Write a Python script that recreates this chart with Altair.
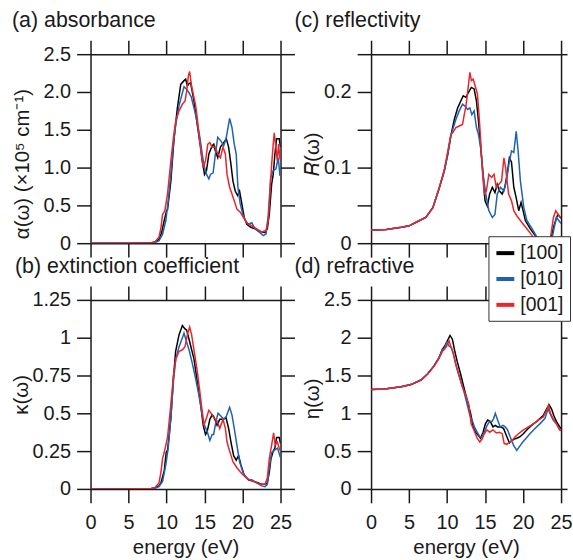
import altair as alt
import pandas as pd

FONT = "Liberation Sans"
INK = "#1a1a1a"

DIRS = ["[100]", "[010]", "[001]"]
COLORS = ["#000000", "#1f62b3", "#e8262c"]
X_TICKS = [0, 5, 10, 15, 20, 25]

# (energy eV, value) pairs for every polarisation direction
ABS_100 = [(0, 0), (5, 0), (8, 0.005), (8.5, 0.015), (9.0, 0.05), (9.35, 0.14), (9.7, 0.30),
           (10.0, 0.43), (10.13, 0.44), (10.57, 0.82), (11.0, 1.40), (11.43, 1.79), (11.87, 2.10),
           (12.3, 2.15), (12.52, 2.17), (12.74, 2.08), (12.96, 2.11), (13.17, 2.12), (13.61, 1.88),
           (14.04, 1.57), (14.48, 1.27), (14.7, 1.09), (15.0, 0.91), (15.26, 0.96), (15.57, 1.18),
           (16.0, 1.29), (16.22, 1.31), (16.43, 1.22), (16.74, 1.13), (17.09, 1.27), (17.52, 1.33),
           (17.87, 1.38), (18.17, 1.27), (18.48, 1.04), (18.74, 0.82), (19.04, 0.69), (19.35, 0.63),
           (19.61, 0.69), (19.91, 0.52), (20.22, 0.34), (20.57, 0.25), (21.09, 0.21), (21.65, 0.19),
           (22.09, 0.16), (22.52, 0.15), (22.96, 0.14), (23.26, 0.19), (23.52, 0.38), (23.83, 0.78),
           (24.04, 0.91), (24.26, 1.18), (24.48, 1.38), (24.83, 1.38), (25.0, 1.27)]
ABS_010 = [(0, 0), (5, 0), (8, 0.003), (8.5, 0.01), (9.0, 0.03), (9.48, 0.12), (9.91, 0.30),
           (10.22, 0.56), (10.57, 0.91), (10.91, 1.31), (11.22, 1.57), (11.65, 1.82), (12.09, 1.99),
           (12.3, 2.07), (12.61, 2.04), (12.96, 1.99), (13.26, 1.93), (13.61, 1.79), (14.04, 1.60),
           (14.39, 1.40), (14.7, 1.18), (14.91, 1.04), (15.26, 0.91), (15.57, 0.85), (15.78, 0.91),
           (16.13, 0.93), (16.43, 1.18), (16.74, 1.40), (17.17, 1.35), (17.52, 1.29), (17.83, 1.38),
           (18.09, 1.53), (18.3, 1.65), (18.61, 1.53), (18.91, 1.31), (19.17, 1.18), (19.39, 0.74),
           (19.7, 0.52), (20.04, 0.38), (20.35, 0.30), (20.78, 0.25), (21.22, 0.27), (21.65, 0.19),
           (22.3, 0.14), (22.74, 0.10), (23.09, 0.12), (23.39, 0.38), (23.7, 0.87), (24.04, 0.96),
           (24.39, 0.98), (24.7, 1.13), (24.91, 0.91), (25.0, 0.92)]
ABS_001 = [(0, 0), (5, 0), (8, 0.005), (8.5, 0.02), (9.0, 0.08), (9.26, 0.20), (9.48, 0.38),
           (9.78, 0.43), (10.13, 0.65), (10.57, 1.09), (10.91, 1.40), (11.22, 1.62), (11.65, 1.75),
           (12.09, 1.84), (12.43, 1.88), (12.65, 2.01), (12.87, 2.21), (13.04, 2.27), (13.26, 2.10),
           (13.52, 1.97), (13.83, 1.82), (14.04, 1.66), (14.26, 1.44), (14.57, 1.18), (14.83, 1.00),
           (15.13, 1.09), (15.43, 1.31), (15.7, 1.33), (16.0, 1.27), (16.43, 1.27), (16.74, 1.18),
           (17.09, 1.13), (17.43, 1.27), (17.74, 1.18), (17.96, 0.91), (18.3, 0.74), (18.61, 0.65),
           (18.91, 0.56), (19.26, 0.45), (19.7, 0.41), (20.13, 0.34), (20.57, 0.27), (21.22, 0.23),
           (21.87, 0.19), (22.52, 0.15), (23.09, 0.17), (23.39, 0.30), (23.61, 0.65), (23.83, 1.04),
           (24.04, 1.31), (24.17, 1.46), (24.39, 1.27), (24.57, 1.09), (24.74, 1.31), (24.91, 1.13),
           (25.0, 1.10)]

EXT_100 = [(0, 0), (5, 0), (8, 0.003), (8.5, 0.008), (9.0, 0.02), (9.26, 0.04), (9.7, 0.12),
           (9.95, 0.24), (10.15, 0.26), (10.57, 0.47), (10.9, 0.73), (11.2, 0.91), (11.65, 1.02),
           (12.09, 1.08), (12.4, 1.06), (12.65, 1.05), (12.96, 0.99), (13.61, 0.86), (14.04, 0.71),
           (14.48, 0.56), (14.83, 0.42), (15.13, 0.36), (15.35, 0.38), (15.7, 0.46), (16.0, 0.49),
           (16.2, 0.48), (16.65, 0.42), (17.0, 0.46), (17.43, 0.46), (17.83, 0.47), (18.17, 0.40),
           (18.48, 0.31), (18.83, 0.22), (19.17, 0.19), (19.48, 0.22), (19.78, 0.16), (20.22, 0.09),
           (20.78, 0.06), (21.43, 0.05), (22.09, 0.04), (22.5, 0.03), (22.96, 0.03), (23.26, 0.04),
           (23.52, 0.11), (23.74, 0.20), (24.04, 0.25), (24.26, 0.27), (24.48, 0.34), (24.83, 0.34),
           (25.0, 0.30)]
EXT_010 = [(0, 0), (5, 0), (8, 0.002), (8.5, 0.005), (9.0, 0.015), (9.48, 0.05), (9.91, 0.16),
           (10.22, 0.27), (10.57, 0.47), (10.91, 0.71), (11.22, 0.86), (11.65, 0.94), (12.09, 1.00),
           (12.3, 1.03), (12.65, 0.97), (12.96, 0.92), (13.39, 0.83), (13.83, 0.73), (14.26, 0.62),
           (14.7, 0.49), (15.0, 0.42), (15.35, 0.38), (15.7, 0.32), (16.0, 0.36), (16.2, 0.36),
           (16.52, 0.45), (16.78, 0.50), (17.17, 0.48), (17.52, 0.46), (17.87, 0.48), (18.3, 0.54),
           (18.61, 0.49), (18.91, 0.40), (19.26, 0.29), (19.61, 0.18), (20.13, 0.10), (20.78, 0.06),
           (21.22, 0.06), (21.87, 0.04), (22.52, 0.02), (22.96, 0.015), (23.26, 0.03), (23.52, 0.14),
           (23.83, 0.24), (24.3, 0.26), (24.61, 0.27), (24.91, 0.22), (25.0, 0.23)]
EXT_001 = [(0, 0), (5, 0), (8, 0.003), (8.5, 0.01), (9.0, 0.04), (9.26, 0.11), (9.48, 0.20),
           (9.78, 0.26), (10.13, 0.34), (10.57, 0.56), (10.91, 0.75), (11.22, 0.86), (11.65, 0.91),
           (12.09, 0.92), (12.43, 0.94), (12.74, 1.02), (13.04, 1.07), (13.3, 1.02), (13.61, 0.92),
           (14.04, 0.78), (14.39, 0.64), (14.7, 0.51), (14.91, 0.42), (15.26, 0.47), (15.57, 0.52),
           (15.87, 0.50), (16.22, 0.47), (16.65, 0.45), (17.0, 0.40), (17.43, 0.46), (17.74, 0.40),
           (17.96, 0.31), (18.3, 0.25), (18.74, 0.18), (19.26, 0.14), (19.91, 0.10), (20.57, 0.07),
           (21.43, 0.05), (22.3, 0.03), (22.96, 0.03), (23.26, 0.07), (23.52, 0.20), (23.83, 0.29),
           (24.09, 0.37), (24.3, 0.29), (24.57, 0.31), (24.83, 0.27), (25.0, 0.25)]

REF_100 = [(0, 0.017), (2, 0.018), (4, 0.021), (5, 0.023), (6, 0.028), (7.2, 0.034), (8.13, 0.047),
           (9.0, 0.074), (9.65, 0.096), (10.1, 0.118), (10.5, 0.142), (10.96, 0.164), (11.4, 0.179),
           (11.8, 0.188), (12.13, 0.195), (12.48, 0.193), (12.91, 0.201), (13.2, 0.206), (13.56, 0.204),
           (13.87, 0.188), (14.13, 0.162), (14.43, 0.126), (14.74, 0.091), (15.0, 0.056), (15.3, 0.049),
           (15.6, 0.065), (15.96, 0.074), (16.3, 0.067), (16.6, 0.078), (16.9, 0.069), (17.26, 0.065),
           (17.6, 0.074), (17.9, 0.091), (18.2, 0.113), (18.48, 0.107), (18.78, 0.074), (19.1, 0.060),
           (19.43, 0.043), (19.74, 0.054), (20.0, 0.043), (20.3, 0.030), (20.96, 0.019), (21.6, 0.010),
           (22.3, 0.002), (22.9, 0.0), (23.6, 0.002), (24.0, 0.021), (24.4, 0.034), (24.6, 0.038),
           (24.9, 0.034), (25.0, 0.033)]
REF_010 = [(0, 0.017), (2, 0.018), (4, 0.021), (5, 0.023), (6, 0.028), (7.2, 0.034), (8.13, 0.047),
           (9.0, 0.074), (9.65, 0.096), (10.1, 0.118), (10.5, 0.142), (10.83, 0.153), (11.17, 0.164),
           (11.6, 0.175), (12.04, 0.184), (12.39, 0.181), (12.7, 0.177), (13.0, 0.179), (13.26, 0.170),
           (13.56, 0.175), (13.87, 0.153), (14.13, 0.144), (14.43, 0.126), (14.74, 0.091), (15.1, 0.065),
           (15.5, 0.043), (15.96, 0.034), (16.3, 0.038), (16.6, 0.065), (17.04, 0.074), (17.48, 0.069),
           (17.8, 0.082), (18.13, 0.104), (18.48, 0.122), (18.78, 0.120), (19.1, 0.148), (19.35, 0.122),
           (19.65, 0.082), (20.1, 0.047), (20.5, 0.030), (21.2, 0.019), (22.0, 0.005), (22.9, 0.0),
           (23.7, 0.0), (24.1, 0.021), (24.4, 0.034), (24.7, 0.030), (25.0, 0.026)]
REF_001 = [(0, 0.017), (2, 0.018), (4, 0.021), (5, 0.023), (6, 0.028), (7.2, 0.034), (8.13, 0.047),
           (9.0, 0.074), (9.65, 0.098), (10.1, 0.122), (10.5, 0.144), (10.74, 0.146), (11.17, 0.153),
           (11.6, 0.155), (12.04, 0.157), (12.26, 0.170), (12.48, 0.181), (12.78, 0.206), (13.0, 0.226),
           (13.2, 0.215), (13.43, 0.217), (13.7, 0.208), (14.0, 0.197), (14.2, 0.170), (14.43, 0.135),
           (14.65, 0.096), (14.9, 0.065), (15.17, 0.069), (15.5, 0.091), (15.87, 0.087), (16.17, 0.091),
           (16.48, 0.074), (16.83, 0.078), (17.17, 0.082), (17.48, 0.113), (17.7, 0.100), (17.9, 0.082),
           (18.1, 0.065), (18.48, 0.056), (18.78, 0.043), (19.2, 0.036), (19.87, 0.027), (20.5, 0.019),
           (21.2, 0.010), (22.0, 0.001), (22.9, 0.0), (23.6, 0.007), (24.0, 0.034), (24.3, 0.043),
           (24.6, 0.038), (24.9, 0.034), (25.0, 0.033)]

RFR_100 = [(0, 1.316), (1.78, 1.32), (3.96, 1.35), (5.26, 1.38), (6.57, 1.44), (7.43, 1.52), (8.3, 1.63),
           (8.96, 1.74), (9.39, 1.85), (9.7, 1.89), (10.04, 1.96), (10.39, 2.03), (10.7, 1.98), (11.0, 1.83),
           (11.35, 1.68), (11.78, 1.52), (12.2, 1.35), (12.65, 1.17), (13.1, 1.00), (13.43, 0.82),
           (13.74, 0.75), (14.1, 0.71), (14.4, 0.67), (14.74, 0.75), (15.04, 0.86), (15.35, 0.91),
           (15.7, 0.89), (16.04, 0.82), (16.35, 0.84), (16.65, 0.82), (17.0, 0.82), (17.43, 0.80),
           (17.87, 0.69), (18.2, 0.61), (18.52, 0.64), (18.83, 0.66), (19.17, 0.67), (19.6, 0.69),
           (20.04, 0.73), (20.48, 0.78), (20.9, 0.82), (21.35, 0.86), (21.78, 0.89), (22.2, 0.93),
           (22.65, 0.97), (23.1, 1.06), (23.43, 1.11), (23.74, 1.06), (24.04, 0.97), (24.4, 0.89),
           (24.83, 0.82), (25.0, 0.80)]
RFR_010 = [(0, 1.316), (1.78, 1.32), (3.96, 1.35), (5.26, 1.38), (6.57, 1.44), (7.43, 1.52), (8.3, 1.63),
           (8.96, 1.74), (9.39, 1.84), (9.7, 1.87), (9.96, 1.94), (10.26, 1.89), (10.57, 1.87), (10.9, 1.76),
           (11.26, 1.61), (11.7, 1.46), (12.13, 1.32), (12.57, 1.15), (13.0, 0.97), (13.3, 0.91),
           (13.6, 0.82), (13.96, 0.75), (14.3, 0.69), (14.6, 0.69), (14.9, 0.75), (15.26, 0.84),
           (15.6, 0.89), (15.9, 0.89), (16.13, 0.93), (16.35, 1.00), (16.65, 0.91), (17.0, 0.82),
           (17.35, 0.84), (17.65, 0.82), (17.96, 0.78), (18.3, 0.69), (18.74, 0.58), (19.17, 0.51),
           (19.52, 0.56), (19.96, 0.62), (20.4, 0.67), (20.9, 0.73), (21.57, 0.80), (22.2, 0.86),
           (22.87, 0.93), (23.3, 1.06), (23.52, 1.00), (23.96, 0.91), (24.4, 0.86), (24.83, 0.78),
           (25.0, 0.77)]
RFR_001 = [(0, 1.316), (1.78, 1.32), (3.96, 1.35), (5.26, 1.38), (6.57, 1.44), (7.43, 1.52), (8.3, 1.62),
           (8.96, 1.73), (9.39, 1.82), (9.7, 1.85), (9.96, 1.89), (10.26, 1.96), (10.48, 1.89), (10.83, 1.79),
           (11.13, 1.65), (11.57, 1.50), (12.0, 1.35), (12.3, 1.28), (12.57, 1.21), (12.87, 1.11),
           (13.17, 0.86), (13.52, 0.78), (13.96, 0.67), (14.3, 0.62), (14.6, 0.66), (14.9, 0.73),
           (15.26, 0.78), (15.6, 0.75), (16.04, 0.78), (16.48, 0.74), (16.9, 0.75), (17.26, 0.73),
           (17.52, 0.60), (17.87, 0.59), (18.2, 0.62), (18.57, 0.64), (18.96, 0.69), (19.4, 0.73),
           (20.04, 0.78), (20.7, 0.82), (21.35, 0.86), (22.0, 0.91), (22.65, 0.95), (23.1, 1.04),
           (23.35, 1.11), (23.6, 1.00), (23.96, 0.93), (24.4, 0.86), (24.83, 0.78), (25.0, 0.77)]


def table(*series):
    rows = []
    for name, pts in zip(DIRS, series):
        for e, v in pts:
            rows.append({"energy": e, "value": v, "dir": name})
    return pd.DataFrame(rows)


AXIS_STYLE = dict(
    grid=False, tickSize=14, tickWidth=1.5, tickColor=INK, domainColor=INK, domainWidth=1.5,
    labelFont=FONT, labelFontSize=20, labelColor=INK, labelFlush=False, labelOverlap=False,
    titleFont=FONT, titleFontSize=20.5, titleFontWeight="normal", titleColor=INK,
)

LEGEND = alt.Legend(
    orient="none", legendX=400, legendY=183, title=None,
    symbolType="stroke", symbolStrokeWidth=4, symbolSize=324,
    labelFont=FONT, labelFontSize=19.5, labelColor=INK,
    strokeColor="#333333", fillColor="white", padding=6, rowPadding=5,
)


def panel(df, heading, head_dx, ytitle, ydomain, yticks, ylabels, title_x, title_y,
          bottom_row, right_tick):
    x_scale = alt.Scale(domain=[0, 25], nice=False, zero=False)
    y_scale = alt.Scale(domain=ydomain, nice=False, zero=False)

    x_bottom = alt.Axis(
        orient="bottom", values=X_TICKS, labels=bottom_row, format="d",
        title="energy (eV)" if bottom_row else None, labelPadding=10, titlePadding=5,
        **AXIS_STYLE,
    )
    y_left = alt.Axis(
        orient="left", values=yticks, labelExpr=ylabels, labelPadding=6, title=ytitle,
        titleX=title_x, titleY=title_y, titleAngle=270, titleAlign="center",
        titleBaseline="middle", **AXIS_STYLE,
    )
    x_top = alt.Axis(orient="top", values=X_TICKS, labels=False, title=None, **AXIS_STYLE)
    y_right = alt.Axis(orient="right", values=yticks, labels=False, title=None,
                       **{**AXIS_STYLE, "tickSize": right_tick})

    lines = alt.Chart(df).mark_line(strokeWidth=1.5, clip=True).encode(
        x=alt.X("energy:Q", scale=x_scale, axis=x_bottom),
        y=alt.Y("value:Q", scale=y_scale, axis=y_left),
        color=alt.Color("dir:N", scale=alt.Scale(domain=DIRS, range=COLORS), legend=LEGEND),
    )
    frame = alt.Chart(df).mark_line(opacity=0).encode(
        x=alt.X("energy:Q", axis=x_top),
        y=alt.Y("value:Q", axis=y_right),
        detail="dir:N",
    )
    return (
        alt.layer(lines, frame)
        .resolve_axis(x="independent", y="independent")
        .properties(
            width=191, height=190,
            title=alt.TitleParams(
                text=heading, anchor="start", frame="group", dx=head_dx, offset=-9,
                baseline="alphabetic", font=FONT, fontSize=21.5, fontWeight="normal", color=INK,
            ),
        )
    )


ONE_DEC = "datum.value == 0 ? '0' : format(datum.value, '.1f')"
TRIM = "format(datum.value, '~g')"
EVERY_OTHER = ("datum.value == 0 ? '0' : (abs(datum.value * 10 - round(datum.value * 10)) < 0.01 "
               "? format(datum.value, '.1f') : '')")

pa = panel(table(ABS_100, ABS_010, ABS_001), "(a) absorbance", -79, "α(ω) (×10⁵ cm⁻¹)",
           [0, 2.5], [0, 0.5, 1, 1.5, 2, 2.5], ONE_DEC, -68, 110, False, 14)
pc = panel(table(REF_100, REF_010, REF_001), "(c) reflectivity", -77, "𝑅(ω)",
           [0, 0.25], [0, 0.05, 0.1, 0.15, 0.2, 0.25], EVERY_OTHER, -59, 100, False, 6)
pb = panel(table(EXT_100, EXT_010, EXT_001), "(b) extinction coefficient", -76, "κ(ω)",
           [0, 1.25], [0, 0.25, 0.5, 0.75, 1, 1.25], TRIM, -69, 95, True, 14)
pd_ = panel(table(RFR_100, RFR_010, RFR_001), "(d) refractive", -77, "η(ω)",
            [0, 2.5], [0, 0.5, 1, 1.5, 2, 2.5], TRIM, -59, 99, True, 6)

chart = (
    alt.concat(pa, pc, pb, pd_, columns=2, spacing={"row": 57, "column": 91}, bounds="flush")
    .properties(padding={"left": 12, "top": 8, "right": 0, "bottom": 0}, background="white")
    .configure_view(stroke=None)
)

chart.save("out.html", embed_options={"renderer": "svg", "actions": False})
